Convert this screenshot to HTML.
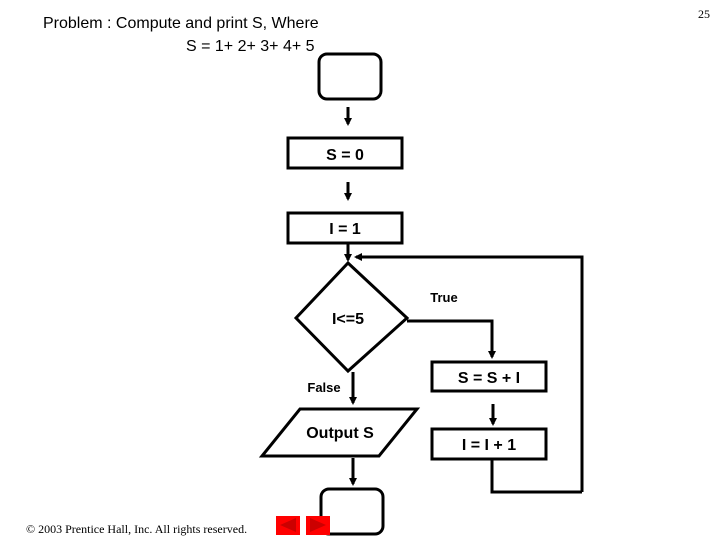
<!DOCTYPE html>
<html><head><style>body{margin:0;background:#fff}</style></head><body>
<svg width="720" height="540" xmlns="http://www.w3.org/2000/svg" font-family="Liberation Sans, sans-serif">
<defs><marker id="a" markerWidth="8" markerHeight="8" refX="6" refY="4" orient="auto" markerUnits="userSpaceOnUse"><path d="M0,0 L8,4 L0,8 z" fill="#000"/></marker></defs>
<text x="43" y="28" font-size="16">Problem : Compute and print S, Where</text>
<text x="186" y="51" font-size="16">S = 1+ 2+ 3+ 4+ 5</text>
<text x="698" y="18" font-size="12" font-family="Liberation Serif, serif">25</text>
<g stroke="#000" stroke-width="3" fill="none">
<rect x="319" y="54" width="62" height="45" rx="8"/>
<rect x="288" y="138" width="114" height="30"/>
<rect x="288" y="213" width="114" height="30"/>
<polygon points="348,263 407,318 348,371 296,318"/>
<rect x="432" y="362" width="114" height="29"/>
<rect x="432" y="429" width="114" height="30"/>
<polygon points="300,409 417,409 379,456 262,456"/>
<rect x="321" y="489" width="62" height="45" rx="8"/>
<line x1="348" y1="107" x2="348" y2="124" marker-end="url(#a)"/>
<line x1="348" y1="182" x2="348" y2="199" marker-end="url(#a)"/>
<line x1="348" y1="244" x2="348" y2="260" marker-end="url(#a)"/>
<polyline points="582,492 582,257 356,257" marker-end="url(#a)"/>
<polyline points="492,460 492,492 582,492"/>
<polyline points="407,321 492,321 492,357" marker-end="url(#a)"/>
<line x1="493" y1="404" x2="493" y2="424" marker-end="url(#a)"/>
<line x1="353" y1="372" x2="353" y2="403" marker-end="url(#a)"/>
<line x1="353" y1="458" x2="353" y2="484" marker-end="url(#a)"/>
</g>
<g font-weight="bold" text-anchor="middle" font-size="16">
<text x="345" y="160">S = 0</text>
<text x="345" y="234">I = 1</text>
<text x="348" y="324">I&lt;=5</text>
<text x="489" y="383">S = S + I</text>
<text x="489" y="450">I = I + 1</text>
<text x="340" y="438">Output S</text>
<text x="444" y="302" font-size="13">True</text>
<text x="324" y="392" font-size="13">False</text>
</g>
<text x="26" y="533" font-size="12" font-family="Liberation Serif, serif">© 2003 Prentice Hall, Inc.  All rights reserved.</text>
<rect x="276" y="516" width="24" height="19" fill="#f00"/>
<path d="M280,525 L296,518 L296,532 z" fill="#c00"/>
<rect x="306" y="516" width="24" height="19" fill="#f00"/>
<path d="M326,525 L310,518 L310,532 z" fill="#c00"/>
</svg>
</body></html>
